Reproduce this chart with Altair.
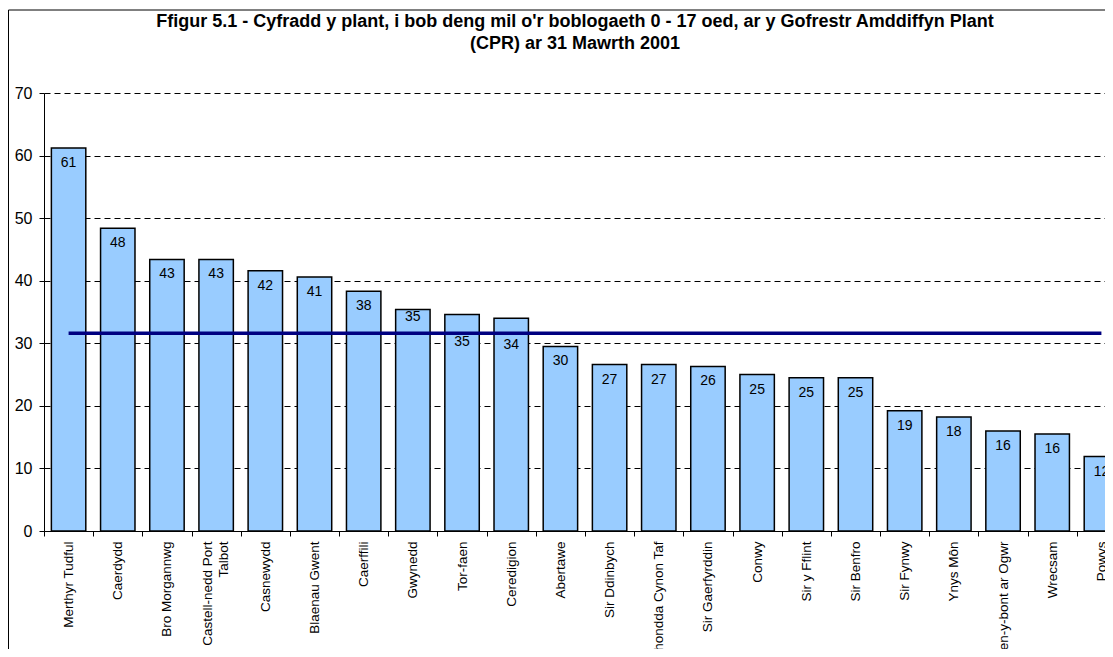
import altair as alt
import pandas as pd

areas = [
    "Merthyr Tudful", "Caerdydd", "Bro Morgannwg", "Castell-nedd Port Talbot",
    "Casnewydd", "Blaenau Gwent", "Caerffili", "Gwynedd", "Tor-faen", "Ceredigion",
    "Abertawe", "Sir Ddinbych", "Rhondda Cynon Taf", "Sir Gaerfyrddin", "Conwy",
    "Sir y Fflint", "Sir Benfro", "Sir Fynwy", "Ynys Môn", "Pen-y-bont ar Ogwr",
    "Wrecsam", "Powys",
]
rates = [61.2, 48.4, 43.4, 43.4, 41.6, 40.6, 38.3, 35.4, 34.6, 34.0,
         29.5, 26.6, 26.6, 26.3, 25.0, 24.5, 24.5, 19.2, 18.2, 16.0,
         15.5, 11.9]
wales_average = 31.6
y_ticks = [0, 10, 20, 30, 40, 50, 60, 70]
title_lines = [
    "Ffigur 5.1 - Cyfradd y plant, i bob deng mil o'r boblogaeth 0 - 17 oed, ar y Gofrestr Amddiffyn Plant",
    "(CPR) ar 31 Mawrth 2001",
]
raised_label = ["Gwynedd"]
lowered_labels = ["Tor-faen", "Ceredigion"]

df = pd.DataFrame({"area": areas, "rate": rates, "avg": [wales_average] * len(areas)})

FONT = "Liberation Sans"

x_enc = alt.X(
    "area:N",
    sort=areas,
    scale=alt.Scale(domain=areas, range=[0, 1082], paddingInner=0.3, paddingOuter=0.15),
    axis=alt.Axis(
        title=None, labelAngle=-90, labelFontSize=13.5, labelFont=FONT, labelColor="black",
        labelPadding=5, tickSize=5, tickColor="black", domainColor="black",
        bandPosition=0, tickOffset=-7.4,
        labelOffset={"condition": {"test": "datum.label == 'Castell-nedd Port Talbot'", "value": -1}, "value": 7.4},
        labelLineHeight=16,
        labelOverlap=False, labelBound=False, grid=False,
        labelExpr="datum.label == 'Castell-nedd Port Talbot' ? ['Castell-nedd Port', 'Talbot'] : datum.label",
    ),
)
y_enc = alt.Y(
    "rate:Q",
    scale=alt.Scale(domain=[0, 70], nice=False),
    axis=alt.Axis(
        title=None, values=y_ticks, labelFontSize=16, labelFont=FONT, labelColor="black",
        labelPadding=7, tickSize=5, tickColor="black", domainColor="black",
        grid=True, gridColor="black", gridDash=[6, 4], gridWidth=1,
    ),
)

base = alt.Chart(df)

bars = base.mark_bar(fill="#99CCFF", stroke="black", strokeWidth=1.5).encode(x=x_enc, y=y_enc)

line = base.mark_line(color="#000080", strokeWidth=3.5).encode(x=x_enc, y=alt.Y("avg:Q"))

text_style = dict(baseline="middle", align="center", fontSize=14, font=FONT, color="black")
labels_main = base.transform_filter(
    ~alt.FieldOneOfPredicate(field="area", oneOf=raised_label + lowered_labels)
).mark_text(dy=15, **text_style).encode(x=x_enc, y=alt.Y("rate:Q"), text=alt.Text("rate:Q", format=".0f"))
labels_up = base.transform_filter(
    alt.FieldOneOfPredicate(field="area", oneOf=raised_label)
).mark_text(dy=8, **text_style).encode(x=x_enc, y=alt.Y("rate:Q"), text=alt.Text("rate:Q", format=".0f"))
labels_down = base.transform_filter(
    alt.FieldOneOfPredicate(field="area", oneOf=lowered_labels)
).mark_text(dy=27, **text_style).encode(x=x_enc, y=alt.Y("rate:Q"), text=alt.Text("rate:Q", format=".0f"))

frame_df = pd.DataFrame({"k": [0]})
frame_left = alt.Chart(frame_df).mark_rule(color="black", strokeWidth=1).encode(
    x=alt.value(-35.5), y=alt.value(-83), y2=alt.value(570)
)
frame_top = alt.Chart(frame_df).mark_rule(color="black", strokeWidth=1).encode(
    x=alt.value(-35.5), x2=alt.value(1100), y=alt.value(-83)
)
title_style = dict(align="center", baseline="alphabetic", fontSize=18, font=FONT,
                   fontWeight="bold", color="black")
title_1 = alt.Chart(frame_df).mark_text(**title_style).encode(
    x=alt.value(531), y=alt.value(-66), text=alt.value(title_lines[0])
)
title_2 = alt.Chart(frame_df).mark_text(**title_style).encode(
    x=alt.value(531), y=alt.value(-44), text=alt.value(title_lines[1])
)

chart = alt.layer(
    bars, line, labels_main, labels_up, labels_down, frame_left, frame_top, title_1, title_2
).properties(
    width=1061,
    height=438,
    padding={"left": 36, "top": 85, "right": 0, "bottom": 118},
    autosize=alt.AutoSizeParams(type="none"),
).configure_view(stroke=None)

chart.save("out.html", embed_options={"renderer": "svg", "actions": False})
